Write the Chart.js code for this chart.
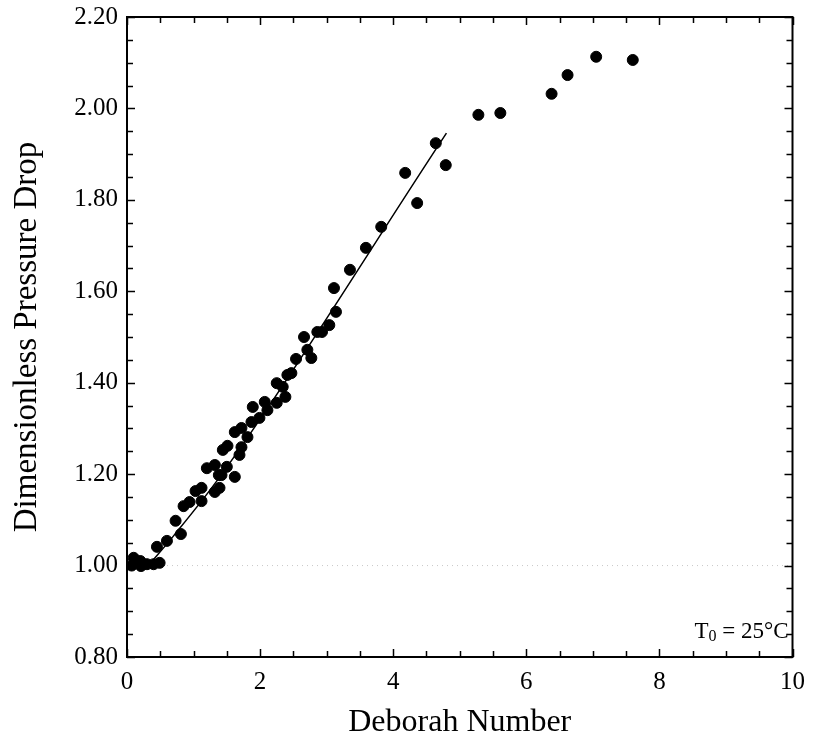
<!DOCTYPE html>
<html>
<head>
<meta charset="utf-8">
<script src="https://cdn.jsdelivr.net/npm/chart.js@4.4.1/dist/chart.umd.min.js"></script>
<style>
html,body{margin:0;padding:0;background:#fff;}
#wrap{width:815px;height:748px;}
</style>
</head>
<body>
<div id="wrap"><canvas id="c" width="815" height="748"></canvas></div>
<script>
// Measured data (Deborah number vs dimensionless pressure drop)
const deborah = [0.07,0.10,0.20,0.21,0.30,0.40,0.49,0.45,0.60,0.73,0.81,0.85,0.94,1.03,1.12,1.12,1.20,1.32,1.39,1.32,1.38,1.42,1.50,1.62,1.51,1.44,1.72,1.69,1.62,1.72,1.81,1.87,1.99,1.89,2.07,2.11,2.25,2.25,2.38,2.47,2.41,2.34,2.54,2.66,2.71,2.77,2.86,2.93,3.04,3.14,3.11,3.35,3.59,3.82,4.18,4.36,4.64,4.79,5.28,5.61,6.38,6.62,7.05,7.60];
const pressureDrop = [1.00,1.017,1.010,0.999,1.003,1.003,1.006,1.041,1.054,1.098,1.069,1.130,1.139,1.163,1.170,1.141,1.213,1.161,1.170,1.220,1.198,1.198,1.216,1.194,1.262,1.253,1.259,1.242,1.292,1.301,1.281,1.314,1.323,1.347,1.358,1.340,1.356,1.399,1.369,1.421,1.417,1.391,1.452,1.500,1.472,1.454,1.511,1.511,1.526,1.555,1.607,1.647,1.695,1.741,1.859,1.793,1.924,1.876,1.986,1.990,2.032,2.073,2.113,2.106];
// Fitted curve
const fitX = [0.35,0.70,1.40,4.80];
const fitY = [1.005,1.065,1.195,1.946];
// Reference level
const refX = [0,10];
const refY = [1.00,1.00];
// Axes
const xTicks = [0,2,4,6,8,10];
const yTicks = [0.80,1.00,1.20,1.40,1.60,1.80,2.00,2.20];
const annotationText = ["T","0"," = 25°C"];

const SERIF = '"Liberation Serif","DejaVu Serif",serif';
const toPts = (xs, ys) => xs.map((x,i)=>({x:x,y:ys[i]}));

const framePlugin = {
  id:'frame',
  afterDraw(chart){
    const {ctx, chartArea:a, scales:{x,y}} = chart;
    ctx.save();
    ctx.strokeStyle = '#000';
    ctx.lineWidth = 2;
    ctx.strokeRect(a.left, a.top, a.right-a.left, a.bottom-a.top);
    ctx.lineWidth = 1.5;
    for (let v = x.min; v <= x.max + 1e-9; v += 0.5) {
      const px = Math.round(x.getPixelForValue(v)) + 0.5;
      const major = Math.abs(v/2 - Math.round(v/2)) < 1e-6;
      const len = major ? 8 : 6;
      ctx.beginPath();
      ctx.moveTo(px, a.bottom); ctx.lineTo(px, a.bottom - len);
      ctx.moveTo(px, a.top); ctx.lineTo(px, a.top + len);
      ctx.stroke();
    }
    for (let v = y.min; v <= y.max + 1e-9; v += 0.05) {
      const py = Math.round(y.getPixelForValue(v)) + 0.5;
      const major = Math.abs(v/0.2 - Math.round(v/0.2)) < 1e-6;
      const len = major ? 8 : 6;
      ctx.beginPath();
      ctx.moveTo(a.left, py); ctx.lineTo(a.left + len, py);
      ctx.moveTo(a.right, py); ctx.lineTo(a.right - len, py);
      ctx.stroke();
    }
    const big = '23px ' + SERIF, small = '16px ' + SERIF;
    ctx.fillStyle = '#000';
    ctx.textBaseline = 'alphabetic';
    ctx.font = big; const w1 = ctx.measureText(annotationText[0]).width;
    const w3 = ctx.measureText(annotationText[2]).width;
    ctx.font = small; const w2 = ctx.measureText(annotationText[1]).width;
    const right = a.right - 4;
    const base = a.bottom - 19;
    let sx = right - (w1 + w2 + w3);
    ctx.font = big; ctx.fillText(annotationText[0], sx, base); sx += w1;
    ctx.font = small; ctx.fillText(annotationText[1], sx, base + 3); sx += w2;
    ctx.font = big; ctx.fillText(annotationText[2], sx, base);
    ctx.restore();
  }
};

new Chart(document.getElementById('c'), {
  type:'scatter',
  data:{
    datasets:[
      {
        label:'ref',
        data: toPts(refX, refY),
        showLine:true,
        borderColor:'#c8c8c8',
        borderWidth:1,
        borderDash:[1,4],
        pointRadius:0,
        order:3
      },
      {
        label:'fit',
        data: toPts(fitX, fitY),
        showLine:true,
        borderColor:'#000',
        borderWidth:1.5,
        tension:0.4,
        cubicInterpolationMode:'monotone',
        pointRadius:0,
        order:2
      },
      {
        label:'data',
        data: toPts(deborah, pressureDrop),
        backgroundColor:'#000',
        borderColor:'#000',
        pointRadius:5.5,
        pointHoverRadius:5.5,
        order:1
      }
    ]
  },
  options:{
    responsive:false,
    animation:false,
    devicePixelRatio:1,
    layout:{padding:{top:17,right:20,left:0,bottom:0}},
    plugins:{legend:{display:false},tooltip:{enabled:false}},
    scales:{
      x:{
        type:'linear', min:0, max:10,
        afterBuildTicks(s){ s.ticks = xTicks.map(v=>({value:v})); },
        afterFit(s){ s.height = 91; },
        ticks:{color:'#000', font:{family:SERIF,size:25}, padding:10, callback:v=>String(v)},
        grid:{drawOnChartArea:false, drawTicks:false},
        border:{display:true,color:'#000',width:2},
        title:{display:true,text:'Deborah Number',color:'#000',font:{family:SERIF,size:32},padding:{top:0,bottom:6}}
      },
      y:{
        type:'linear', min:0.8, max:2.2,
        afterBuildTicks(s){ s.ticks = yTicks.map(v=>({value:v})); },
        afterFit(s){ s.width = 127; s.paddingTop = 0; s.paddingBottom = 0; },
        ticks:{color:'#000', font:{family:SERIF,size:25,lineHeight:0.6}, padding:9, callback:v=>Number(v).toFixed(2)},
        grid:{drawOnChartArea:false, drawTicks:false},
        border:{display:true,color:'#000',width:2},
        title:{display:true,text:'Dimensionless Pressure Drop',color:'#000',font:{family:SERIF,size:33},padding:{top:8,bottom:0}}
      }
    }
  },
  plugins:[framePlugin]
});
</script>
</body>
</html>
